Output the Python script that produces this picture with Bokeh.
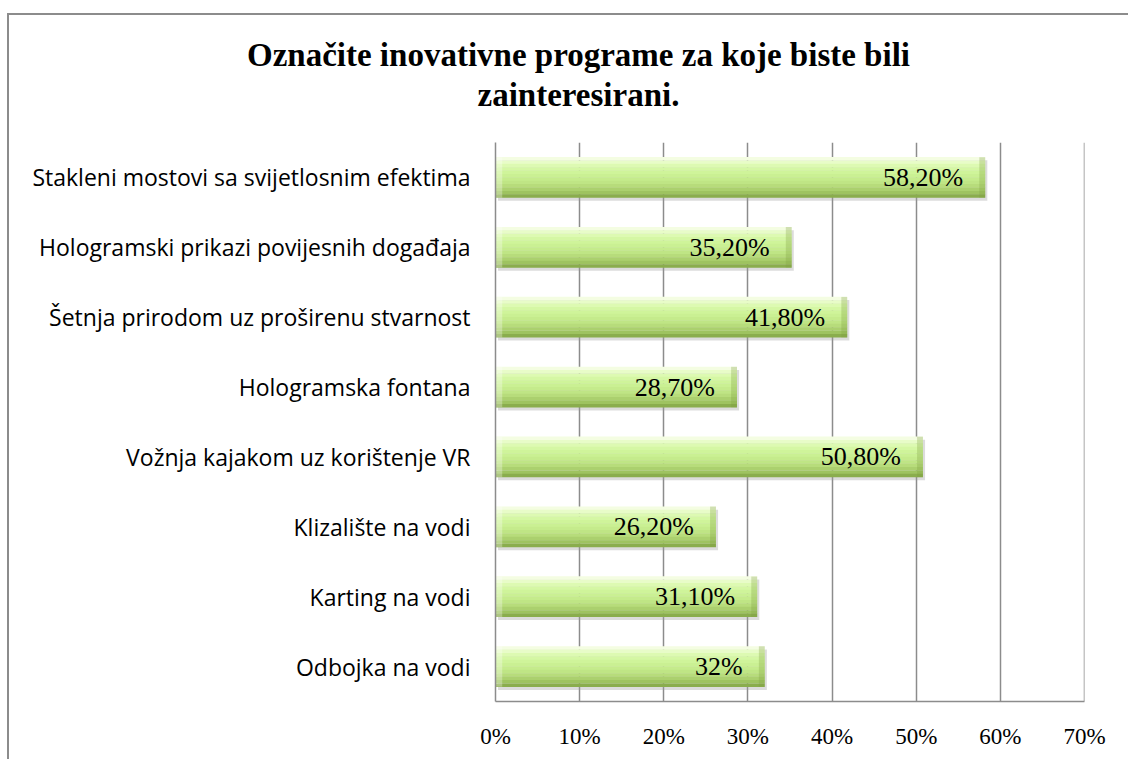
from bokeh.plotting import figure
from bokeh.models import (ColumnDataSource, FactorRange, Range1d, FixedTicker,
                          LabelSet, Span, Div)
from bokeh.layouts import column
from bokeh.transform import dodge
from bokeh.core.properties import value
from bokeh.embed import file_html
from bokeh.resources import INLINE

# ---- data (top to bottom as shown) ----
categories = [
    "Stakleni mostovi sa svijetlosnim efektima",
    "Hologramski prikazi povijesnih događaja",
    "Šetnja prirodom uz proširenu stvarnost",
    "Hologramska fontana",
    "Vožnja kajakom uz korištenje VR",
    "Klizalište na vodi",
    "Karting na vodi",
    "Odbojka na vodi",
]
values = [58.2, 35.2, 41.8, 28.7, 50.8, 26.2, 31.1, 32.0]
value_labels = ["58,20%", "35,20%", "41,80%", "28,70%", "50,80%", "26,20%", "31,10%", "32%"]
x_ticks = [0, 10, 20, 30, 40, 50, 60, 70]
x_tick_labels = ["0%", "10%", "20%", "30%", "40%", "50%", "60%", "70%"]
title_lines = ["Označite inovativne programe za koje biste bili", "zainteresirani."]

factors = list(reversed(categories))
src = ColumnDataSource(dict(cat=categories, val=values, lab=value_labels,
                            zero=[0] * len(values)))

title = Div(text="<br>".join(title_lines), width=1118, height=110,
            styles={"text-align": "center", "font-family": "'Liberation Serif'",
                    "font-weight": "bold", "font-size": "33px", "line-height": "40px",
                    "padding-top": "15px", "padding-left": "11px",
                    "box-sizing": "border-box", "color": "black"})

p = figure(width=1118, height=624, output_backend="svg", toolbar_location=None,
           y_range=FactorRange(factors=factors, range_padding=0),
           x_range=Range1d(0, 70),
           min_border_left=486, min_border_right=43,
           min_border_top=7, min_border_bottom=58)
p.outline_line_color = None
p.background_fill_color = "white"
p.border_fill_color = "white"

# grid
p.ygrid.grid_line_color = None
p.xgrid.grid_line_color = "#8c8c8c"
p.xgrid.grid_line_width = 1.5
p.xaxis.ticker = FixedTicker(ticks=x_ticks)
p.xaxis.major_label_overrides = {t: l for t, l in zip(x_ticks, x_tick_labels)}
p.add_layout(Span(location=x_ticks[-1], dimension="height",
                  line_color="#8c8c8c", line_width=1.5))

for ax in (p.xaxis[0], p.yaxis[0]):
    ax.axis_line_color = "#8c8c8c"
    ax.axis_line_width = 1.5
    ax.major_tick_line_color = None
    ax.minor_tick_line_color = None
    ax.major_tick_in = 0
    ax.major_tick_out = 0
    ax.major_label_text_color = "black"

p.xaxis.major_label_text_font = "Liberation Serif"
p.xaxis.major_label_text_font_size = "23px"
p.xaxis.major_label_standoff = 22
p.yaxis.major_label_text_font = "Open Sans"
p.yaxis.major_label_text_font_size = "23px"
p.yaxis.major_label_standoff = 25

# bars: shadow + gradient slices
H = 0.58
p.hbar(y=dodge("cat", -0.045, range=p.y_range), left=0.3, right=dodge("val", 0.25),
       height=H, source=src, fill_color="#9a9a9a", fill_alpha=0.35, line_color=None)

grad = ["#f4fde2", "#e8fcc8", "#ddfab2", "#d5f7a4", "#cff49a", "#caf093",
        "#c5eb8c", "#bfe585", "#b7dc7b", "#abd06e", "#9ec360", "#8aad4d"]
N = len(grad)
for i, c in enumerate(grad):
    off = H / 2 - (i + 0.5) * H / N
    p.hbar(y=dodge("cat", off, range=p.y_range), left="zero", right="val",
           height=H / N + 0.002, source=src, fill_color=c, line_color=None)

# end bevels
p.hbar(y="cat", left=dodge("val", -0.7), right="val", height=H, source=src,
       fill_color="#7f9e3e", fill_alpha=0.3, line_color=None)
p.hbar(y="cat", left="zero", right=dodge("zero", 0.8), height=H, source=src,
       fill_color="white", fill_alpha=0.3, line_color=None)

labels = LabelSet(x="val", y="cat", text="lab", source=src, x_offset=-22,
                  text_align="right", text_baseline="middle",
                  text_font=value("Liberation Serif"), text_font_size="26px",
                  text_color="black")
p.add_layout(labels)

layout = column(title, p, spacing=0,
                styles={"margin-left": "7px", "margin-top": "13px",
                        "border-left": "2px solid #8c8c8c",
                        "border-top": "2px solid #8c8c8c"})

open("out.html", "w").write(file_html(layout, INLINE))
